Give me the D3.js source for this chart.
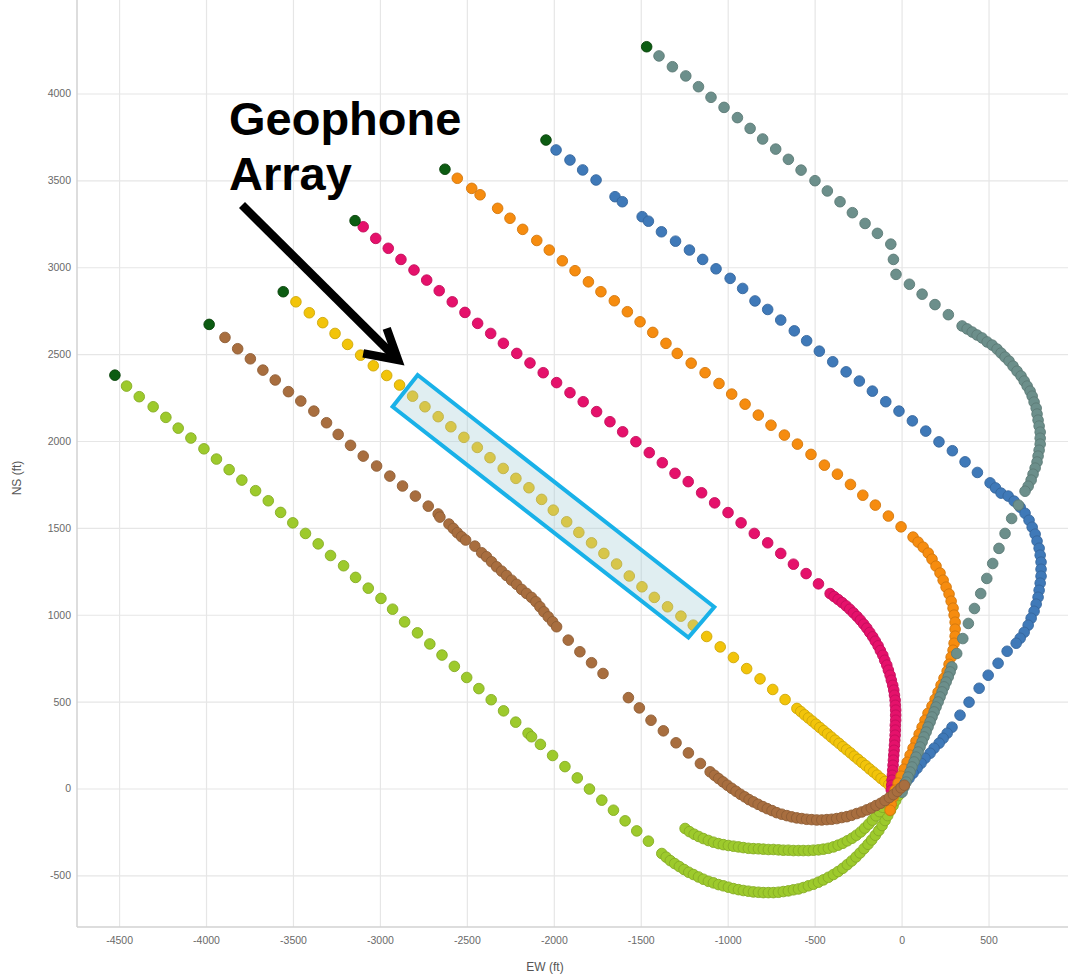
<!DOCTYPE html>
<html>
<head>
<meta charset="utf-8">
<script src="https://cdn.jsdelivr.net/npm/d3@7"></script>
<style>
  html, body { margin: 0; padding: 0; background: #fff; }
  svg { display: block; }
</style>
</head>
<body>
<svg id="chart" width="1068" height="976"></svg>
<script>
// Axis ticks (ft)
const xTicks = [-4500, -4000, -3500, -3000, -2500, -2000, -1500, -1000, -500, 0, 500];
const yTicks = [-500, 0, 500, 1000, 1500, 2000, 2500, 3000, 3500, 4000];

// Well trajectories in plan view, [EW ft, NS ft]; each list starts at the toe
const wellGreen = [
  [-4524,2379],[-4457,2316],[-4384,2255],[-4304,2197],[-4231,2136],[-4160,2074],[-4087,2017],[-4012,1955],
  [-3940,1896],[-3867,1835],[-3794,1775],[-3715,1714],[-3642,1656],[-3571,1589],[-3501,1529],[-3428,1468],
  [-3355,1408],[-3284,1341],[-3209,1282],[-3140,1215],[-3067,1153],[-2994,1094],[-2927,1032],[-2858,959],
  [-2784,896],[-2713,832],[-2643,768],[-2572,703],[-2501,639],[-2431,575],[-2360,511],[-2289,447],
  [-2219,382],[-2148,318],[-2128,298],[-2077,254],[-2007,190],[-1936,126],[-1865,61],[-1795,-3],
  [-1724,-67],[-1657,-125],[-1590,-186],[-1523,-244],[-1456,-303],
  [-1379,-374],[-1354,-395],[-1330,-415],[-1305,-432],[-1278,-449],[-1251,-466],[-1224,-482],[-1197,-495],
  [-1168,-509],[-1140,-522],[-1111,-534],[-1082,-543],[-1053,-553],[-1025,-560],[-996,-568],[-967,-576],
  [-938,-582],[-910,-587],[-881,-591],[-852,-595],[-823,-597],[-795,-599],[-766,-599],[-737,-599],
  [-708,-597],[-680,-593],[-651,-589],[-622,-583],[-593,-578],[-565,-570],[-536,-560],[-507,-551],
  [-478,-539],[-450,-526],[-421,-511],[-392,-495],[-365,-478],[-338,-459],[-312,-438],[-287,-417],
  [-262,-394],[-239,-371],[-216,-346],[-193,-321],[-172,-296],[-151,-269],[-131,-242],[-112,-213],
  [-95,-184],[-80,-156],[-64,-127],[-49,-98],[-34,-69],[-18,-40]
];

const wellGreenShort = [
  [-1245,-230],[-1220,-248],[-1193,-263],[-1167,-276],[-1140,-288],[-1111,-299],[-1082,-309],[-1053,-317],
  [-1025,-323],[-996,-328],[-967,-332],[-938,-336],[-910,-340],[-881,-344],[-852,-346],[-823,-347],
  [-795,-349],[-766,-351],[-737,-351],[-708,-353],[-680,-355],[-651,-355],[-622,-357],[-593,-357],
  [-565,-357],[-536,-357],[-507,-355],[-478,-353],[-450,-349],[-421,-344],[-392,-336],[-365,-326],
  [-338,-315],[-312,-301],[-285,-286],[-260,-269],[-235,-250],[-212,-228],[-189,-205],[-168,-182],
  [-147,-157],[-127,-133],[-108,-108],[-89,-83],[-70,-58],[-51,-33],[-32,-10]
];

const wellBrown = [
  [-3982,2671],[-3891,2596],[-3818,2531],[-3745,2473],[-3673,2408],[-3602,2351],[-3526,2284],[-3455,2230],
  [-3380,2172],[-3307,2105],[-3240,2038],[-3169,1975],[-3096,1913],[-3019,1856],[-2943,1798],[-2870,1741],
  [-2796,1683],[-2722,1625],[-2665,1580],[-2655,1562],[-2603,1522],[-2578,1497],[-2555,1472],[-2530,1449],
  [-2507,1430],[-2454,1395],[-2415,1357],[-2387,1334],[-2358,1305],[-2329,1276],[-2300,1251],[-2272,1226],
  [-2243,1199],[-2214,1175],[-2185,1146],[-2157,1123],[-2128,1100],[-2103,1075],[-2080,1046],[-2057,1017],
  [-2032,988],[-2007,960],[-1984,931],[-1917,854],[-1850,787],[-1783,724],[-1717,662],[-1571,523],
  [-1508,464],[-1441,393],[-1370,332],[-1297,263],[-1226,205],[-1157,144],
  [-1101,96],[-1076,76],[-1052,57],[-1027,38],[-1002,19],[-977,1],[-952,-16],[-927,-33],
  [-902,-48],[-877,-64],[-852,-77],[-825,-91],[-798,-104],[-772,-116],[-745,-127],[-718,-139],
  [-689,-148],[-660,-156],[-632,-163],[-603,-169],[-574,-173],[-546,-177],[-517,-179],[-488,-181],
  [-459,-181],[-430,-179],[-402,-177],[-373,-173],[-344,-167],[-315,-162],[-287,-154],[-258,-144],
  [-229,-135],[-200,-123],[-174,-112],[-147,-98],[-120,-85],[-95,-69],[-70,-52],[-47,-35],
  [-24,-16],[-3,4],[16,19]
];

const wellYellow = [
  [-3556,2859],[-3483,2801],[-3406,2738],[-3329,2681],[-3258,2619],[-3186,2556],[-3111,2494],[-3038,2433],
  [-2961,2377],[-2887,2322],[-2812,2258],[-2741,2197],[-2665,2140],[-2592,2082],[-2517,2021],[-2440,1963],
  [-2367,1904],[-2291,1842],[-2218,1785],[-2143,1731],[-2070,1664],[-2003,1602],[-1926,1535],[-1856,1474],
  [-1783,1414],[-1712,1353],[-1639,1292],[-1566,1223],[-1493,1161],[-1422,1100],[-1346,1046],[-1269,992],
  [-1198,940],[-1121,875],[-1043,815],[-967,754],[-891,690],[-814,631],[-741,570],[-670,512],
  [-602,461],[-580,443],[-558,424],[-536,406],[-514,388],[-492,370],[-470,351],[-448,333],
  [-426,315],[-404,296],[-382,278],[-360,260],[-338,241],[-316,223],[-294,205],[-272,186],
  [-250,168],[-228,150],[-206,132],[-184,113],[-162,95],[-140,77],[-118,58],[-96,40],[-74,22]
];

const wellPink = [
  [-3143,3268],[-3096,3233],[-3024,3166],[-2952,3109],[-2879,3045],[-2804,2984],[-2731,2926],[-2659,2865],
  [-2584,2801],[-2511,2740],[-2438,2677],[-2363,2619],[-2290,2562],[-2213,2504],[-2137,2449],[-2061,2393],
  [-1984,2336],[-1907,2278],[-1831,2226],[-1754,2169],[-1677,2111],[-1604,2053],[-1528,1996],[-1451,1933],
  [-1376,1875],[-1303,1814],[-1227,1766],[-1150,1702],[-1075,1644],[-998,1588],[-923,1529],[-847,1468],
  [-770,1414],[-695,1353],[-622,1291],[-549,1237],[-478,1178],
  [-411,1122],[-388,1105],[-365,1088],[-342,1070],[-319,1051],[-298,1032],[-277,1011],[-256,990],
  [-237,969],[-218,946],[-200,923],[-183,898],[-166,873],[-151,848],[-135,821],[-122,794],
  [-108,767],[-97,738],[-85,710],[-76,681],[-66,652],[-59,623],[-51,594],[-45,566],
  [-41,537],[-37,508],[-36,479],[-34,451],[-34,422],[-34,393],[-36,364],[-36,336],
  [-37,307],[-39,278],[-41,249],[-43,220],[-45,192],[-47,163],[-49,134],[-51,105],
  [-53,76],[-55,48],[-57,19],[-59,-10]
];

const wellOrange = [
  [-2626,3564],[-2555,3512],[-2472,3454],[-2424,3417],[-2323,3339],[-2252,3282],[-2179,3218],[-2098,3154],
  [-2026,3099],[-1951,3037],[-1878,2980],[-1801,2916],[-1729,2859],[-1652,2807],[-1577,2744],[-1504,2686],
  [-1431,2625],[-1355,2562],[-1290,2504],[-1210,2448],[-1130,2393],[-1050,2331],[-977,2270],[-900,2212],
  [-824,2149],[-751,2091],[-674,2034],[-599,1982],[-521,1923],[-444,1861],[-369,1809],[-294,1750],
  [-223,1688],[-151,1631],[-76,1568],[-3,1506],
  [66,1447],[95,1418],[124,1389],[153,1355],[175,1320],[198,1280],[221,1240],[239,1199],
  [256,1159],[273,1119],[285,1078],[296,1038],[302,998],[308,957],[308,917],[308,877],
  [302,836],[296,796],[285,756],[273,715],[262,675],[244,635],[227,595],[210,554],
  [193,514],[175,474],[152,433],[135,393],[118,353],[101,313],[83,272],[66,232],
  [49,192],[32,151],[14,111],[-3,71],[-20,31],[-37,-10],[-49,-50],[-60,-90],[-66,-125]
];

const wellBlue = [
  [-2045,3732],[-1987,3675],[-1907,3617],[-1834,3560],[-1757,3502],[-1648,3406],[-1606,3377],[-1492,3291],
  [-1456,3265],[-1381,3204],[-1300,3150],[-1220,3099],[-1144,3045],[-1067,2991],[-986,2936],[-914,2878],
  [-843,2806],[-770,2757],[-695,2696],[-617,2634],[-546,2577],[-473,2517],[-396,2456],[-319,2398],
  [-243,2345],[-168,2287],[-91,2226],[-15,2172],[62,2116],[139,2057],[215,1995],[292,1944],
  [365,1880],[436,1819],[509,1759],[540,1730],
  [572,1700],[613,1683],[647,1654],[682,1619],[710,1584],[733,1544],[751,1504],[768,1464],
  [779,1424],[791,1383],[797,1343],[802,1303],[802,1262],[802,1222],[797,1182],[791,1141],
  [785,1101],[774,1061],[762,1020],[745,980],[728,940],[705,899],[682,865],[659,836],
  [607,790],[555,721],[498,652],[446,577],[388,497],[336,422],[290,353],
  [262,318],[239,289],[216,261],[187,232],[164,203],[135,174],[112,145],[89,116],
  [66,88],[43,59],[20,30],[-3,2]
];

const wellGrey = [
  [-1466,4269],[-1395,4216],[-1318,4154],[-1241,4101],[-1168,4039],[-1096,3978],[-1021,3920],[-944,3861],
  [-871,3799],[-799,3738],[-724,3680],[-651,3621],[-578,3559],[-498,3498],[-427,3439],[-354,3377],
  [-283,3314],[-210,3252],[-139,3195],[-62,3133],[-47,3045],[-32,2959],[45,2902],[118,2845],
  [192,2785],[269,2727],
  [348,2662],[377,2645],[406,2627],[434,2610],[463,2593],[492,2570],[521,2552],[549,2529],
  [572,2506],[595,2483],[618,2460],[641,2431],[664,2402],[687,2374],[705,2345],[722,2316],
  [739,2287],[751,2258],[762,2224],[774,2189],[779,2155],[785,2120],[791,2086],[797,2051],
  [797,2016],[797,1982],[791,1947],[785,1913],[779,1879],[768,1844],[756,1809],[745,1775],
  [728,1740],[710,1711],
  [672,1631],[633,1554],[595,1468],[560,1382],[524,1295],[490,1209],[455,1122],[419,1036],
  [384,950],[352,863],[317,777],
  [289,700],[279,671],[268,642],[256,613],[244,585],[233,556],[221,527],[210,498],
  [198,469],[187,441],[175,412],[164,383],[152,354],[141,325],[129,297],[118,268],
  [106,239],[95,210],[83,181],[72,153],[60,124],[49,95],[37,66],[26,37],[14,8],[3,-21]
];

// Geophone array outline (corners, ft) and the callout arrow (ft)
const arrayBox = [[-2783,2380],[-1077,1045],[-1226,869],[-2927,2197]];
const arrowTail = [-3793,3358];
const arrowTip = [-2896,2466];
const arrowBarbs = [[-3096,2504],[-2961,2648]];

// ---------------------------------------------------------------
const svg = d3.select("#chart");
const plot = { left: 77, right: 1068, top: 0, bottom: 927 };

const x = d3.scaleLinear().domain([-4742, 957]).range([plot.left, plot.right]);
const y = d3.scaleLinear().domain([-797, 4538]).range([plot.bottom, plot.top]);

const font = "'Liberation Sans', Arial, Helvetica, sans-serif";
const plain = d => String(d);   // hyphen-minus, no thousands separator

// Grid + tick labels
const gx = svg.append("g")
  .attr("transform", `translate(0,${plot.bottom})`)
  .call(d3.axisBottom(x).tickValues(xTicks).tickSize(-(plot.bottom - plot.top)).tickPadding(10).tickFormat(plain));
const gy = svg.append("g")
  .attr("transform", `translate(${plot.left},0)`)
  .call(d3.axisLeft(y).tickValues(yTicks).tickSize(-(plot.right - plot.left)).tickPadding(6).tickFormat(plain));

[gx, gy].forEach(g => {
  g.select(".domain").remove();
  g.selectAll(".tick line").attr("stroke", "#e6e6e6").attr("stroke-width", 1.2);
  g.selectAll(".tick text")
    .attr("fill", "#6a6a6a")
    .style("font-family", font)
    .style("font-size", "10.5px");
});

// Axis lines
svg.append("line").attr("x1", plot.left).attr("x2", plot.left).attr("y1", plot.top).attr("y2", plot.bottom)
  .attr("stroke", "#d2d2d2").attr("stroke-width", 1.5);
svg.append("line").attr("x1", plot.left).attr("x2", plot.right).attr("y1", plot.bottom).attr("y2", plot.bottom)
  .attr("stroke", "#d2d2d2").attr("stroke-width", 1.5);

// Axis titles
svg.append("text")
  .attr("x", 545).attr("y", 971)
  .attr("text-anchor", "middle")
  .attr("fill", "#555")
  .style("font-family", font).style("font-size", "12px")
  .text("EW (ft)");
svg.append("text")
  .attr("transform", "translate(21,478) rotate(-90)")
  .attr("text-anchor", "middle")
  .attr("fill", "#555")
  .style("font-family", font).style("font-size", "12px")
  .text("NS (ft)");

// Wells, in drawing order
const wells = [
  { id: "green",      pts: wellGreen,      color: "#9dca2c", toe: true },
  { id: "greenShort", pts: wellGreenShort, color: "#9dca2c", toe: false },
  { id: "yellow",     pts: wellYellow,     color: "#f2c40a", toe: true },
  { id: "pink",       pts: wellPink,       color: "#e5116b", toe: true },
  { id: "orange",     pts: wellOrange,     color: "#f68c0f", toe: true },
  { id: "blue",       pts: wellBlue,       color: "#3f79b8", toe: true },
  { id: "grey",       pts: wellGrey,       color: "#6c8f8b", toe: true },
  { id: "brown",      pts: wellBrown,      color: "#a86e3f", toe: true }
];

const R = 5.3;
const wellLayer = svg.append("g");
wells.forEach(w => {
  const stroke = d3.color(w.color).darker(0.45).formatHex();
  wellLayer.append("g").attr("class", "well-" + w.id)
    .selectAll("circle")
    .data(w.toe ? w.pts.slice(1) : w.pts)
    .join("circle")
    .attr("cx", d => x(d[0]))
    .attr("cy", d => y(d[1]))
    .attr("r", R)
    .attr("fill", w.color)
    .attr("stroke", stroke)
    .attr("stroke-width", 0.9);
});

// Toe markers
svg.append("g").selectAll("circle")
  .data(wells.filter(w => w.toe).map(w => w.pts[0]))
  .join("circle")
  .attr("cx", d => x(d[0]))
  .attr("cy", d => y(d[1]))
  .attr("r", R)
  .attr("fill", "#0c5c12")
  .attr("stroke", "#084209")
  .attr("stroke-width", 0.9);

// Geophone array box
svg.append("polygon")
  .attr("points", arrayBox.map(d => [x(d[0]), y(d[1])].join(",")).join(" "))
  .attr("fill", "#9fc9d3")
  .attr("fill-opacity", 0.32)
  .attr("stroke", "#19b1e8")
  .attr("stroke-width", 4)
  .attr("stroke-linejoin", "miter");

// Callout arrow
const arrow = svg.append("g").attr("stroke", "#000").attr("fill", "none")
  .attr("stroke-width", 8.5);
arrow.append("line")
  .attr("x1", x(arrowTail[0])).attr("y1", y(arrowTail[1]))
  .attr("x2", x(arrowTip[0]) - 3).attr("y2", y(arrowTip[1]) - 3);
arrow.append("path")
  .attr("d", d3.line()([
    [x(arrowBarbs[0][0]), y(arrowBarbs[0][1])],
    [x(arrowTip[0]), y(arrowTip[1])],
    [x(arrowBarbs[1][0]), y(arrowBarbs[1][1])]
  ]))
  .attr("stroke-linejoin", "miter")
  .attr("stroke-miterlimit", 10);

// Callout label
const label = svg.append("text")
  .attr("fill", "#000")
  .style("font-family", font)
  .style("font-weight", "bold")
  .style("font-size", "47px");
label.append("tspan").attr("x", 229).attr("y", 135).text("Geophone");
label.append("tspan").attr("x", 229).attr("y", 190).text("Array");
</script>
</body>
</html>
